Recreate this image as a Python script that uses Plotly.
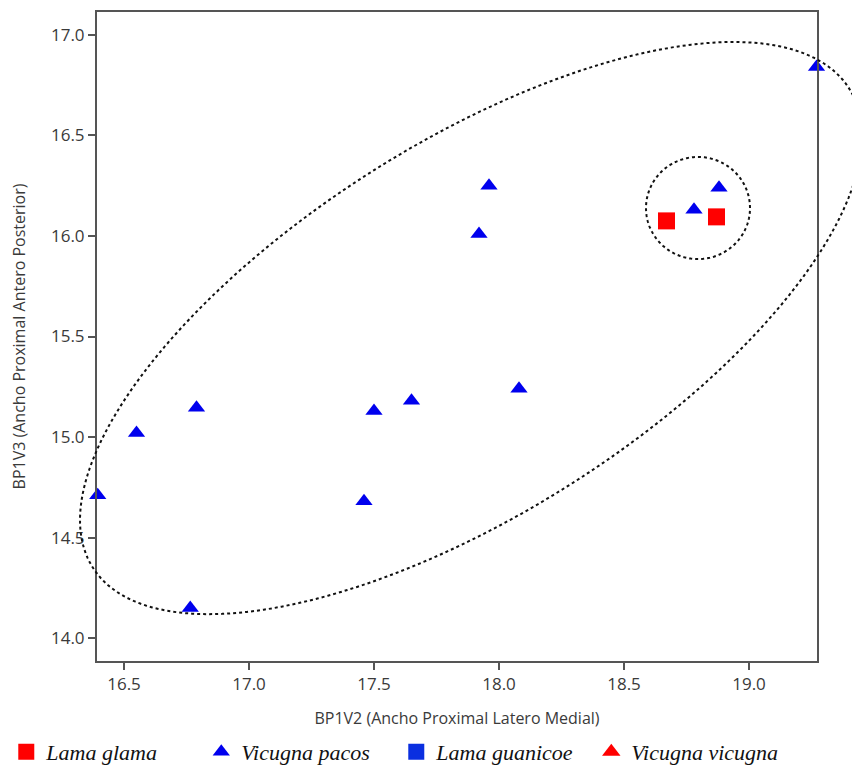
import numpy as np
import plotly.graph_objects as go

# ---- data ----
lama_glama_x = [18.67, 18.87]
lama_glama_y = [16.075, 16.095]

vicugna_pacos_x = [16.395, 16.55, 16.79, 16.765, 17.46, 17.50, 17.65, 17.92, 17.96, 18.08, 18.78, 18.88, 19.27]
vicugna_pacos_y = [14.71, 15.02, 15.145, 14.15, 14.68, 15.13, 15.18, 16.01, 16.25, 15.24, 16.13, 16.24, 16.84]

lama_guanicoe_x = [None]
lama_guanicoe_y = [None]
vicugna_vicugna_x = [None]
vicugna_vicugna_y = [None]

x_ticks = [16.5, 17.0, 17.5, 18.0, 18.5, 19.0]
y_ticks = [14.0, 14.5, 15.0, 15.5, 16.0, 16.5, 17.0]

x_range = [16.392, 19.272]
y_range = [13.886, 17.114]

# confidence-ellipse parameters (data units)
big_ellipse = dict(cx=17.888, cy=15.542, sx=1.564, sy=1.423, rho=0.671)
small_ellipse = dict(cx=18.796, cy=16.139, sx=0.208, sy=0.254, rho=0.0)

TEXT = "#3a3a3a"
AXIS = "#555555"


def to_paper(x, y):
    px = (np.asarray(x) - x_range[0]) / (x_range[1] - x_range[0])
    py = (np.asarray(y) - y_range[0]) / (y_range[1] - y_range[0])
    return px, py


def ellipse_path(e, n=240):
    t = np.linspace(0, 2 * np.pi, n)
    x = e["cx"] + e["sx"] * np.cos(t)
    y = e["cy"] + e["sy"] * (e["rho"] * np.cos(t) + np.sqrt(1 - e["rho"] ** 2) * np.sin(t))
    px, py = to_paper(x, y)
    pts = [f"{a:.5f},{b:.5f}" for a, b in zip(px, py)]
    return "M " + " L ".join(pts) + " Z"


fig = go.Figure()

fig.add_trace(go.Scatter(
    x=lama_glama_x, y=lama_glama_y, mode="markers", name="Lama glama",
    marker=dict(symbol="square", size=17, color="#ff0000"), cliponaxis=False))
fig.add_trace(go.Scatter(
    x=vicugna_pacos_x, y=vicugna_pacos_y, mode="markers", name="Vicugna pacos",
    marker=dict(symbol="triangle-up", size=15, color="#0000ee"), cliponaxis=False))
fig.add_trace(go.Scatter(
    x=lama_guanicoe_x, y=lama_guanicoe_y, mode="markers", name="Lama guanicoe",
    marker=dict(symbol="square", size=17, color="#0a2fe0"), cliponaxis=False))
fig.add_trace(go.Scatter(
    x=vicugna_vicugna_x, y=vicugna_vicugna_y, mode="markers", name="Vicugna vicugna",
    marker=dict(symbol="triangle-up", size=17, color="#ff0000"), cliponaxis=False))

for e in (big_ellipse, small_ellipse):
    fig.add_shape(type="path", xref="paper", yref="paper", path=ellipse_path(e),
                  line=dict(color="#111111", width=2, dash="dot"), layer="above")

fig.update_layout(
    width=860, height=767,
    margin=dict(l=89, r=51, t=4, b=114, autoexpand=False),
    paper_bgcolor="white", plot_bgcolor="white",
    font=dict(family="Open Sans, Noto Sans, sans-serif", color=TEXT, size=16),
    showlegend=True,
    legend=dict(
        orientation="h", x=-0.126, xanchor="left", y=-0.14, yanchor="middle",
        font=dict(family="Liberation Serif", size=22, color="#111111", style="italic"),
        entrywidth=150, entrywidthmode="pixels", itemsizing="trace",
        bgcolor="rgba(0,0,0,0)",
    ),
)

fig.update_xaxes(
    range=x_range, tickvals=x_ticks, ticktext=[f"{v:.1f}" for v in x_ticks],
    automargin=False,
    showgrid=False, zeroline=False, showline=True, linecolor=AXIS, linewidth=2,
    mirror=True, ticks="outside", ticklen=7, tickwidth=2, tickcolor=AXIS,
    tickfont=dict(size=17, color=TEXT),
    title=dict(text="BP1V2 (Ancho Proximal Latero Medial)", font=dict(size=16, color=TEXT), standoff=18),
)
fig.update_yaxes(
    range=y_range, tickvals=y_ticks, ticktext=[f"{v:.1f}" for v in y_ticks],
    automargin=False,
    showgrid=False, zeroline=False, showline=True, linecolor=AXIS, linewidth=2,
    mirror=True, ticks="outside", ticklen=7, tickwidth=2, tickcolor=AXIS,
    tickfont=dict(size=17, color=TEXT),
    title=dict(text="BP1V3 (Ancho Proximal Antero Posterior)", font=dict(size=16, color=TEXT), standoff=22),
)

fig.write_html("out.html")
